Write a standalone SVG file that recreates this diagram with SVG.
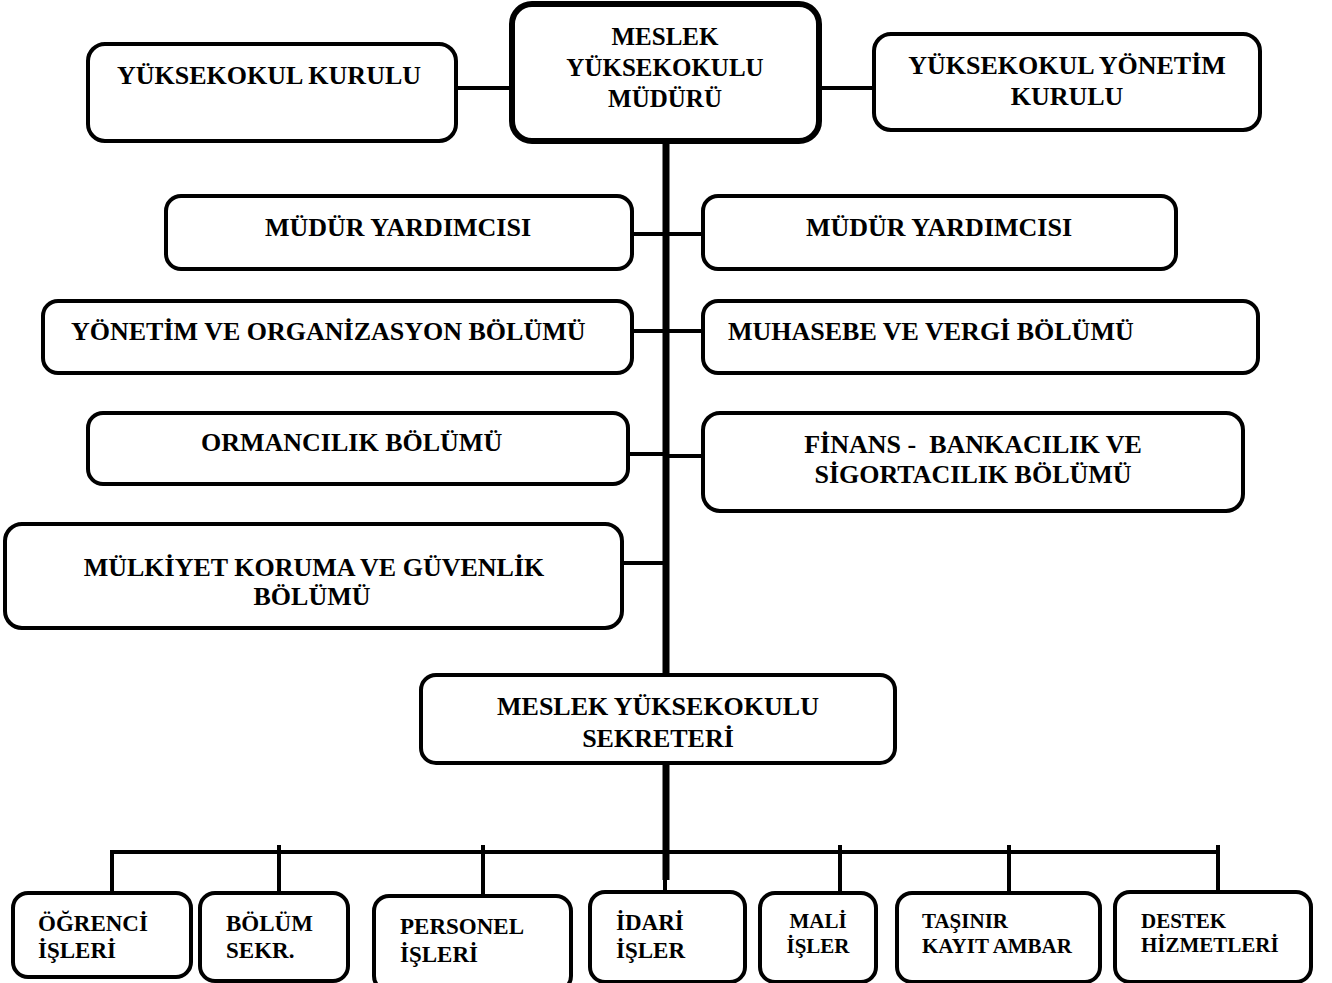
<svg xmlns="http://www.w3.org/2000/svg" width="1332" height="983" viewBox="0 0 1332 983">
<style>
.box{fill:#fff;stroke:#000;stroke-width:4}
.main{fill:#fff;stroke:#000;stroke-width:6}
.t{font-family:"Liberation Serif","Times New Roman",serif;font-weight:bold;font-size:26px;fill:#000;white-space:pre}
.s{font-size:23px}
.xs{font-size:21px}
.m{text-anchor:middle}
.ln{stroke:#000;stroke-width:4;fill:none}
.trunk{stroke:#000;stroke-width:7;fill:none}
</style>
<rect width="1332" height="983" fill="#fff"/>
<g id="connectors">
<line class="ln" x1="456" y1="88" x2="512" y2="88"/>
<line class="ln" x1="819" y1="88" x2="874" y2="88"/>
<line class="trunk" x1="666" y1="141" x2="666" y2="675"/>
<line class="trunk" x1="666" y1="763" x2="666" y2="880"/>
<line class="ln" x1="665" y1="878" x2="665" y2="892"/>
<line class="ln" x1="632" y1="234" x2="707" y2="234"/>
<line class="ln" x1="628" y1="331" x2="707" y2="331"/>
<line class="ln" x1="628" y1="454" x2="666" y2="454"/>
<line class="ln" x1="666" y1="456" x2="703" y2="456"/>
<line class="ln" x1="622" y1="563" x2="666" y2="563"/>
<line class="ln" x1="110" y1="852" x2="1220" y2="852"/>
<line class="ln" x1="112" y1="850" x2="112" y2="893"/>
<line class="ln" x1="279" y1="845" x2="279" y2="893"/>
<line class="ln" x1="483" y1="845" x2="483" y2="896"/>
<line class="ln" x1="840" y1="845" x2="840" y2="893"/>
<line class="ln" x1="1009" y1="845" x2="1009" y2="893"/>
<line class="ln" x1="1218" y1="845" x2="1218" y2="892"/>
</g>
<g id="mudur">
<rect class="main" x="512" y="4" width="307" height="137" rx="20"/>
<text class="t m" style="font-size:25px" x="665" y="45">MESLEK</text>
<text class="t m" style="font-size:25px" x="665" y="76">YÜKSEKOKULU</text>
<text class="t m" style="font-size:25px" x="665" y="107">MÜDÜRÜ</text>
</g>
<g id="yuksekokul-kurulu">
<rect class="box" x="88" y="44" width="368" height="97" rx="17"/>
<text class="t m" x="269" y="84">YÜKSEKOKUL KURULU</text>
</g>
<g id="yonetim-kurulu">
<rect class="box" x="874" y="34" width="386" height="96" rx="17"/>
<text class="t m" x="1067" y="74">YÜKSEKOKUL YÖNETİM</text>
<text class="t m" x="1067" y="105">KURULU</text>
</g>
<g id="mudur-yard-1">
<rect class="box" x="166" y="196" width="466" height="73" rx="15"/>
<text class="t m" x="398" y="236">MÜDÜR YARDIMCISI</text>
</g>
<g id="mudur-yard-2">
<rect class="box" x="703" y="196" width="473" height="73" rx="15"/>
<text class="t m" x="939" y="236">MÜDÜR YARDIMCISI</text>
</g>
<g id="yonetim-org">
<rect class="box" x="43" y="301" width="589" height="72" rx="15"/>
<text class="t" x="71" y="340">YÖNETİM VE ORGANİZASYON BÖLÜMÜ</text>
</g>
<g id="muhasebe">
<rect class="box" x="703" y="301" width="555" height="72" rx="15"/>
<text class="t" x="728" y="340">MUHASEBE VE VERGİ BÖLÜMÜ</text>
</g>
<g id="ormancilik">
<rect class="box" x="88" y="413" width="540" height="71" rx="15"/>
<text class="t" x="201" y="451">ORMANCILIK BÖLÜMÜ</text>
</g>
<g id="finans">
<rect class="box" x="703" y="413" width="540" height="98" rx="17"/>
<text class="t m" x="973" y="453">FİNANS -  BANKACILIK VE</text>
<text class="t m" x="973" y="483">SİGORTACILIK BÖLÜMÜ</text>
</g>
<g id="mulkiyet">
<rect class="box" x="5" y="524" width="617" height="104" rx="17"/>
<text class="t m" x="314" y="576">MÜLKİYET KORUMA VE GÜVENLİK</text>
<text class="t m" x="312" y="605">BÖLÜMÜ</text>
</g>
<g id="sekreter">
<rect class="box" x="421" y="675" width="474" height="88" rx="15"/>
<text class="t m" x="658" y="715">MESLEK YÜKSEKOKULU</text>
<text class="t m" x="658" y="747">SEKRETERİ</text>
</g>
<g id="ogrenci">
<rect class="box" x="13" y="893" width="178" height="84" rx="15"/>
<text class="t s" x="38" y="931">ÖĞRENCİ</text>
<text class="t s" x="38" y="958">İŞLERİ</text>
</g>
<g id="bolum-sekr">
<rect class="box" x="200" y="893" width="148" height="88" rx="15"/>
<text class="t s" x="226" y="931">BÖLÜM</text>
<text class="t s" x="226" y="958">SEKR.</text>
</g>
<g id="personel">
<rect class="box" x="374" y="896" width="197" height="95" rx="15"/>
<text class="t s" x="400" y="934">PERSONEL</text>
<text class="t s" x="400" y="962">İŞLERİ</text>
</g>
<g id="idari">
<rect class="box" x="590" y="892" width="155" height="90" rx="15"/>
<text class="t s" x="616" y="930">İDARİ</text>
<text class="t s" x="616" y="958">İŞLER</text>
</g>
<g id="mali">
<rect class="box" x="760" y="893" width="116" height="89" rx="15"/>
<text class="t xs m" x="818" y="928">MALİ</text>
<text class="t xs m" x="818" y="953">İŞLER</text>
</g>
<g id="tasinir">
<rect class="box" x="897" y="893" width="203" height="89" rx="15"/>
<text class="t xs" x="922" y="928">TAŞINIR</text>
<text class="t xs" x="922" y="953">KAYIT AMBAR</text>
</g>
<g id="destek">
<rect class="box" x="1115" y="892" width="196" height="90" rx="15"/>
<text class="t xs" x="1141" y="928">DESTEK</text>
<text class="t xs" x="1141" y="952">HİZMETLERİ</text>
</g>
</svg>
